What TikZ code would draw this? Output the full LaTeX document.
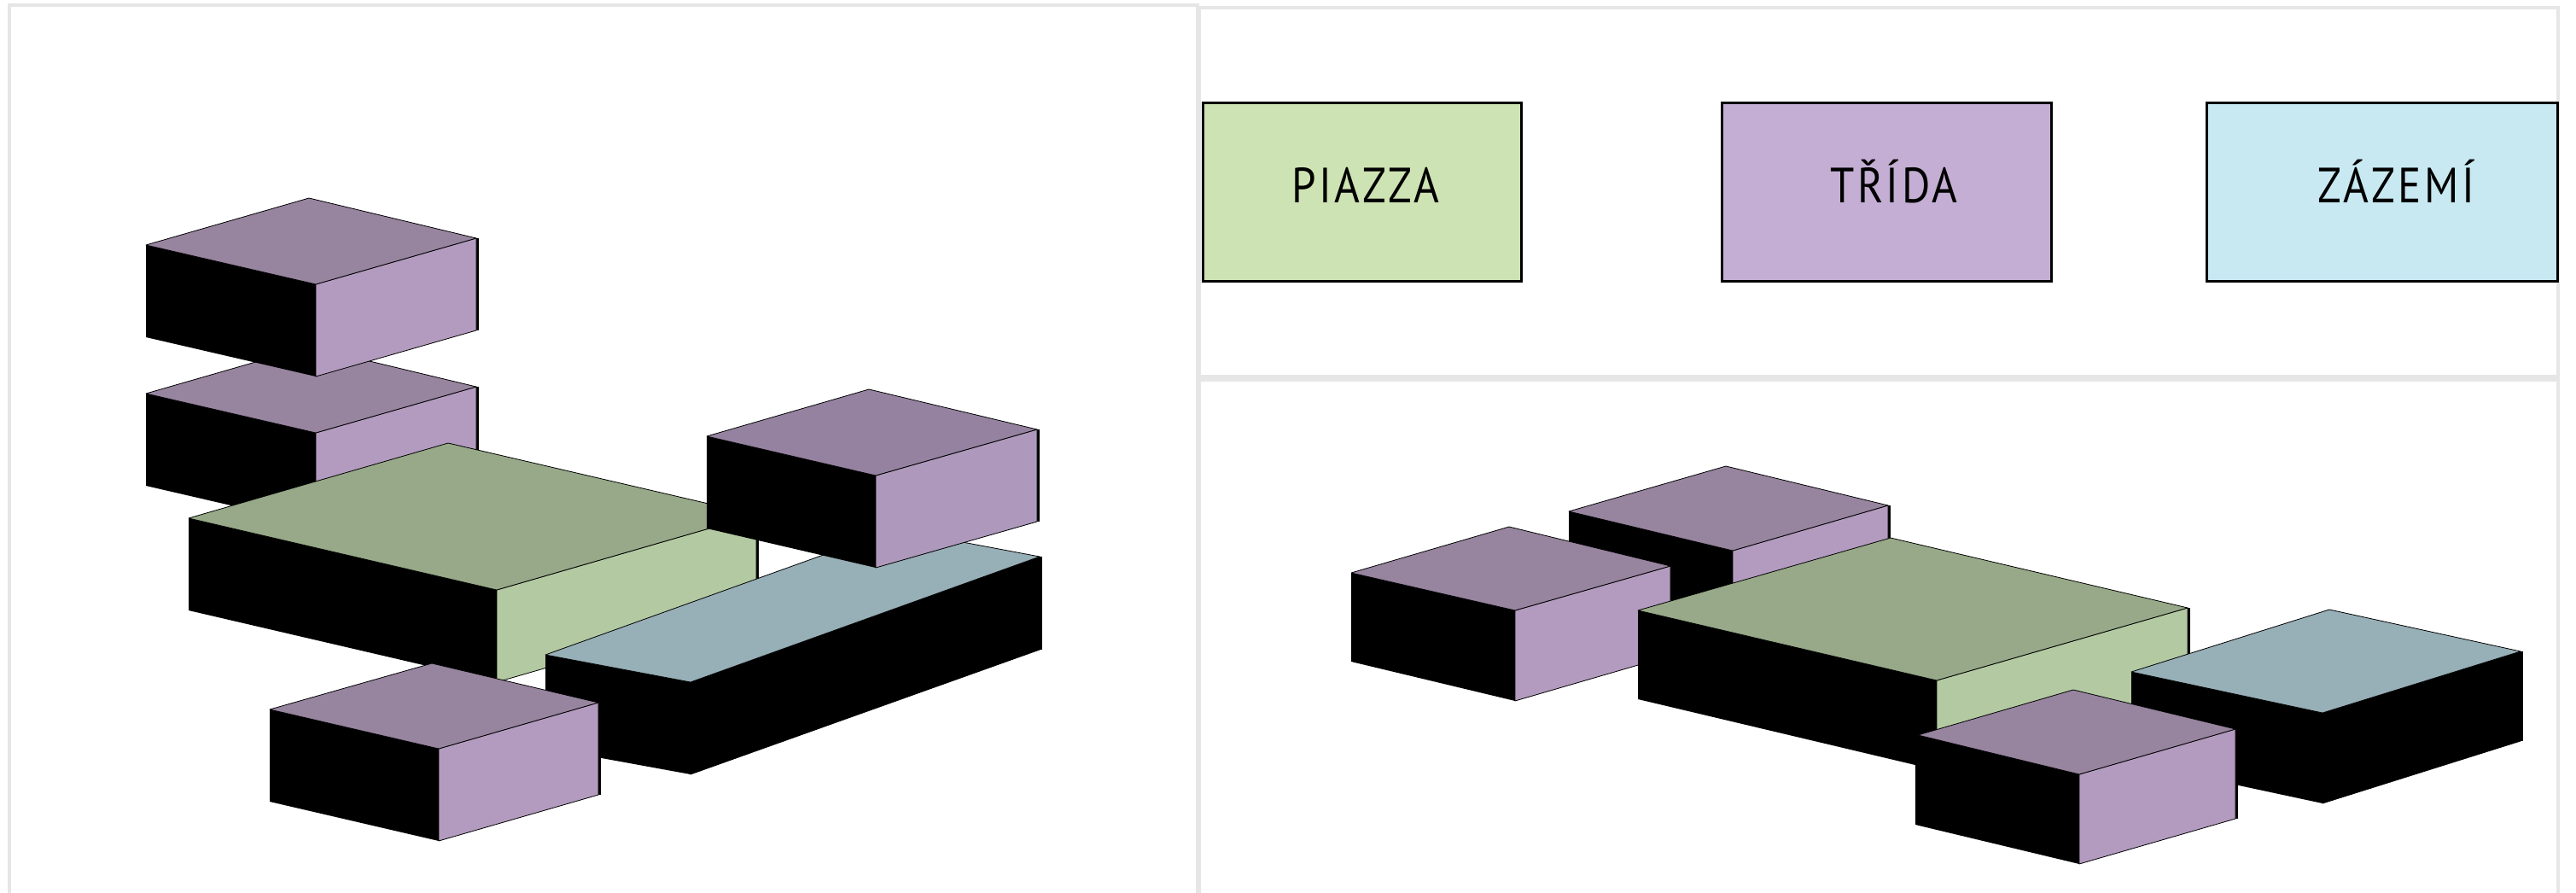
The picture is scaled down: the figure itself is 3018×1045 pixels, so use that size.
\documentclass[tikz,border=0pt]{standalone}
\usepackage{fontspec}
\setmainfont[LetterSpace=6,FakeStretch=0.88]{PT Sans}
\definecolor{frameg}{HTML}{E6E6E6}
\definecolor{piazzaC}{HTML}{CEE3B3}
\definecolor{tridaC}{HTML}{C4AED4}
\definecolor{zazemiC}{HTML}{C8E9F2}
\definecolor{purT}{HTML}{97849F}
\definecolor{purS}{HTML}{B29BBE}
\definecolor{purTb}{HTML}{9582A0}
\definecolor{purSb}{HTML}{AE99BC}
\definecolor{grnT}{HTML}{97A988}
\definecolor{grnS}{HTML}{B2C9A2}
\definecolor{bluT}{HTML}{97AFB7}
\tikzset{
 x=1pt,y=-1pt,
 panel/.style={draw=frameg,line width=3.5pt},
 keybox/.style={draw=black,line width=3pt},
 keytext/.style={anchor=base,inner sep=0pt,font=\fontsize{58}{60}\selectfont},
 face/.style={draw=black,line width=0.8pt,line join=round}
}
\usetikzlibrary{calc}
% L T R F LB FB RB topcolour sidecolour
\newcommand\cuboid[9]{%
 \fill[black] (#1)--(#4)--(#6)--(#5)--cycle;
 \draw[black,line width=3pt] ($(#3)+(1.5,0)$)--($(#7)+(1.5,0)$);
 \draw[face,fill=#9] (#4)--(#3)--(#7)--(#6)--cycle;
 \draw[face,fill=#8] (#1)--(#2)--(#3)--(#4)--cycle;
}
\begin{document}
\begin{tikzpicture}
\useasboundingbox (0,0) rectangle (3018,1045);
\fill[white] (0,0) rectangle (3018,1045);
% panels
\draw[panel] (11,1060)--(11,6)--(1403,6)--(1403,1060);
\draw[panel] (1405,441)--(1405,9)--(2997,9)--(2997,441)--cycle;
\draw[panel] (1405,1060)--(1405,445)--(2997,445)--(2997,1060);
% key
\path[keybox,fill=piazzaC] (1409,120) rectangle (1782,329);
\path[keybox,fill=tridaC] (2017,120) rectangle (2403,329);
\path[keybox,fill=zazemiC] (2585,120) rectangle (2996,329);
\node[keytext] (tp) at (1600,237) {PIAZZA};
\node[keytext] (tt) at (2219,237) {TŘÍDA};
\node[keytext] (tz) at (2807,237) {ZÁZEMÍ};
% left group
\cuboid{171,461}{362,406}{558,453}{370,507}{171,569}{370,615}{558,561}{purT}{purS}
\cuboid{171,287}{362,232}{558,279}{370,333}{171,395}{370,441}{558,387}{purT}{purS}
\cuboid{221,607}{525,519}{886,603}{582,691}{221,715}{582,799}{886,711}{grnT}{grnS}
\cuboid{639,767}{1048,620}{1218,652}{809,799}{639,876}{809,907}{1218,761}{bluT}{black}
\cuboid{828,511}{1018,456}{1215,503}{1026,557}{828,619}{1026,665}{1215,611}{purTb}{purSb}
\cuboid{316,831}{506,777}{701,823}{514,877}{316,939}{514,985}{701,931}{purT}{purS}
% right group
\cuboid{1838,599}{2022,546}{2212,592}{2030,645}{1838,704}{2030,750}{2212,697}{purT}{purS}
\cuboid{1583,671}{1768,617}{1957,663}{1775,715}{1583,775}{1775,821}{1957,768}{purT}{purS}
\cuboid{1919,715}{2215,630}{2563,712}{2269,797}{1919,819}{2269,902}{2563,817}{grnT}{grnS}
\cuboid{2497,787}{2729,714}{2953,763}{2721,835}{2497,893}{2721,941}{2953,868}{bluT}{black}
\fill[black] (2244,885) rectangle (2252,966);
\cuboid{2247,861}{2429,808}{2619,854}{2436,907}{2244,966}{2436,1012}{2619,959}{purT}{purS}
\end{tikzpicture}
\end{document}
